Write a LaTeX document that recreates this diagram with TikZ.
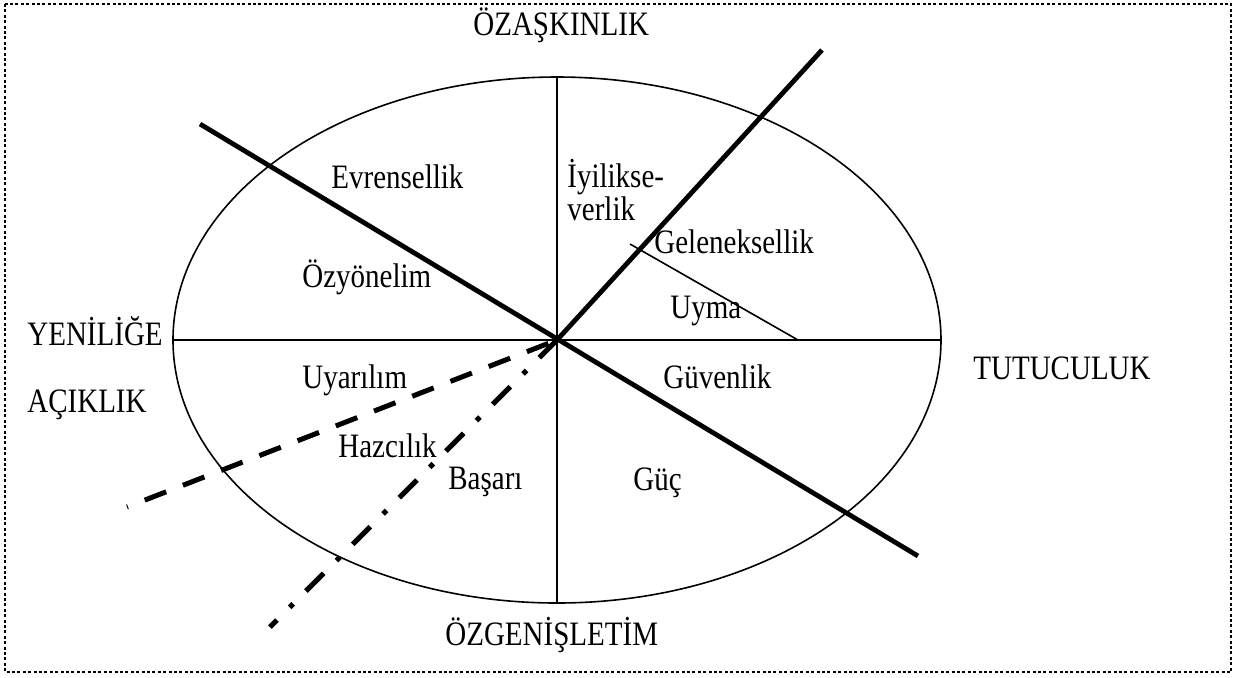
\documentclass[tikz,border=0pt]{standalone}
\usepackage{fontspec}
\setmainfont{Liberation Serif}
\usepackage{graphicx}
\usepackage{xcolor}
\usepackage{tikz}
\definecolor{ink}{HTML}{000000}
\newcommand{\valuefont}{\fontsize{14.5pt}{17pt}\selectfont}
\newcommand{\tallword}[1]{\scalebox{1}[1.18]{#1}}
\tikzset{
  thinline/.style={draw=ink, line width=0.8pt},
  boldline/.style={draw=ink, line width=2.4pt},
  dashline/.style={draw=ink, line width=2.5pt, dash pattern=on 11.5pt off 9pt, dash phase=11pt},
  dashdotline/.style={draw=ink, line width=2.5pt, dash pattern=on 12.5pt off 9pt on 2.5pt off 9pt},
  framebox/.style={draw=ink, line width=1pt, dash pattern=on 1.5pt off 1.2pt},
  value/.style={anchor=base west, inner sep=0pt, font=\valuefont, text=ink}
}

\begin{document}
\begin{tikzpicture}[x=0.5pt, y=-0.5pt]
  \useasboundingbox (0,0) rectangle (1238,677);
  \draw[framebox] (5,4) rectangle (1231,672);

  % circle of values
  \coordinate (centre) at (557,340);
  \draw[thinline] (centre) ellipse [x radius=192pt, y radius=131.5pt];
  \coordinate (topaxis) at (557,77);
  \coordinate (bottomaxis) at (557,603);
  \coordinate (leftaxis) at (173,340);
  \coordinate (rightaxis) at (941,340);
  \draw[thinline] (topaxis) -- (bottomaxis);
  \draw[thinline] (leftaxis) -- (rightaxis);
  \coordinate (uymatip) at (630,244);
  \coordinate (uymafoot) at (798,340);
  \draw[thinline] (uymatip) -- (uymafoot);

  % dividing lines
  \coordinate (bold1a) at (200,124);
  \coordinate (bold1b) at (918,556);
  \coordinate (bold2) at (822,50);
  \draw[boldline] (bold1a) -- (bold1b);
  \draw[boldline] (centre) -- (bold2);
  \coordinate (dashend) at (127,507);
  \draw[dashline] (dashend) -- (centre);
  \coordinate (dashdotend) at (270,627);
  \draw[dashdotline] (centre) -- (dashdotend);

  % poles
  \node[value] (ozaskinlik) at (473,35) {\tallword{ÖZAŞKINLIK}};
  \node[value] (yenilige) at (27,345) {\tallword{YENİLİĞE}};
  \node[value] (aciklik) at (27,412) {\tallword{AÇIKLIK}};
  \node[value] (tutuculuk) at (973,379) {\tallword{TUTUCULUK}};
  \node[value] (ozgenisletim) at (445,645) {\tallword{ÖZGENİŞLETİM}};

  % value types
  \node[value] (evrensellik) at (331,188) {\tallword{Evrensellik}};
  \node[value] (ozyonelim) at (302,287) {\tallword{Özyönelim}};
  \node[value] (iyilik1) at (567,187) {\tallword{İyilikse-}};
  \node[value] (iyilik2) at (567,220) {\tallword{verlik}};
  \node[value] (geleneksellik) at (654,253) {\tallword{Geleneksellik}};
  \node[value] (uyma) at (670,318) {\tallword{Uyma}};
  \node[value] (guvenlik) at (663,388) {\tallword{Güvenlik}};
  \node[value] (guc) at (633,490) {\tallword{Güç}};
  \node[value] (uyarilim) at (302,388) {\tallword{Uyarılım}};
  \node[value] (hazcilik) at (338,457) {\tallword{Hazcılık}};
  \node[value] (basari) at (448,489) {\tallword{Başarı}};
\end{tikzpicture}
\end{document}
